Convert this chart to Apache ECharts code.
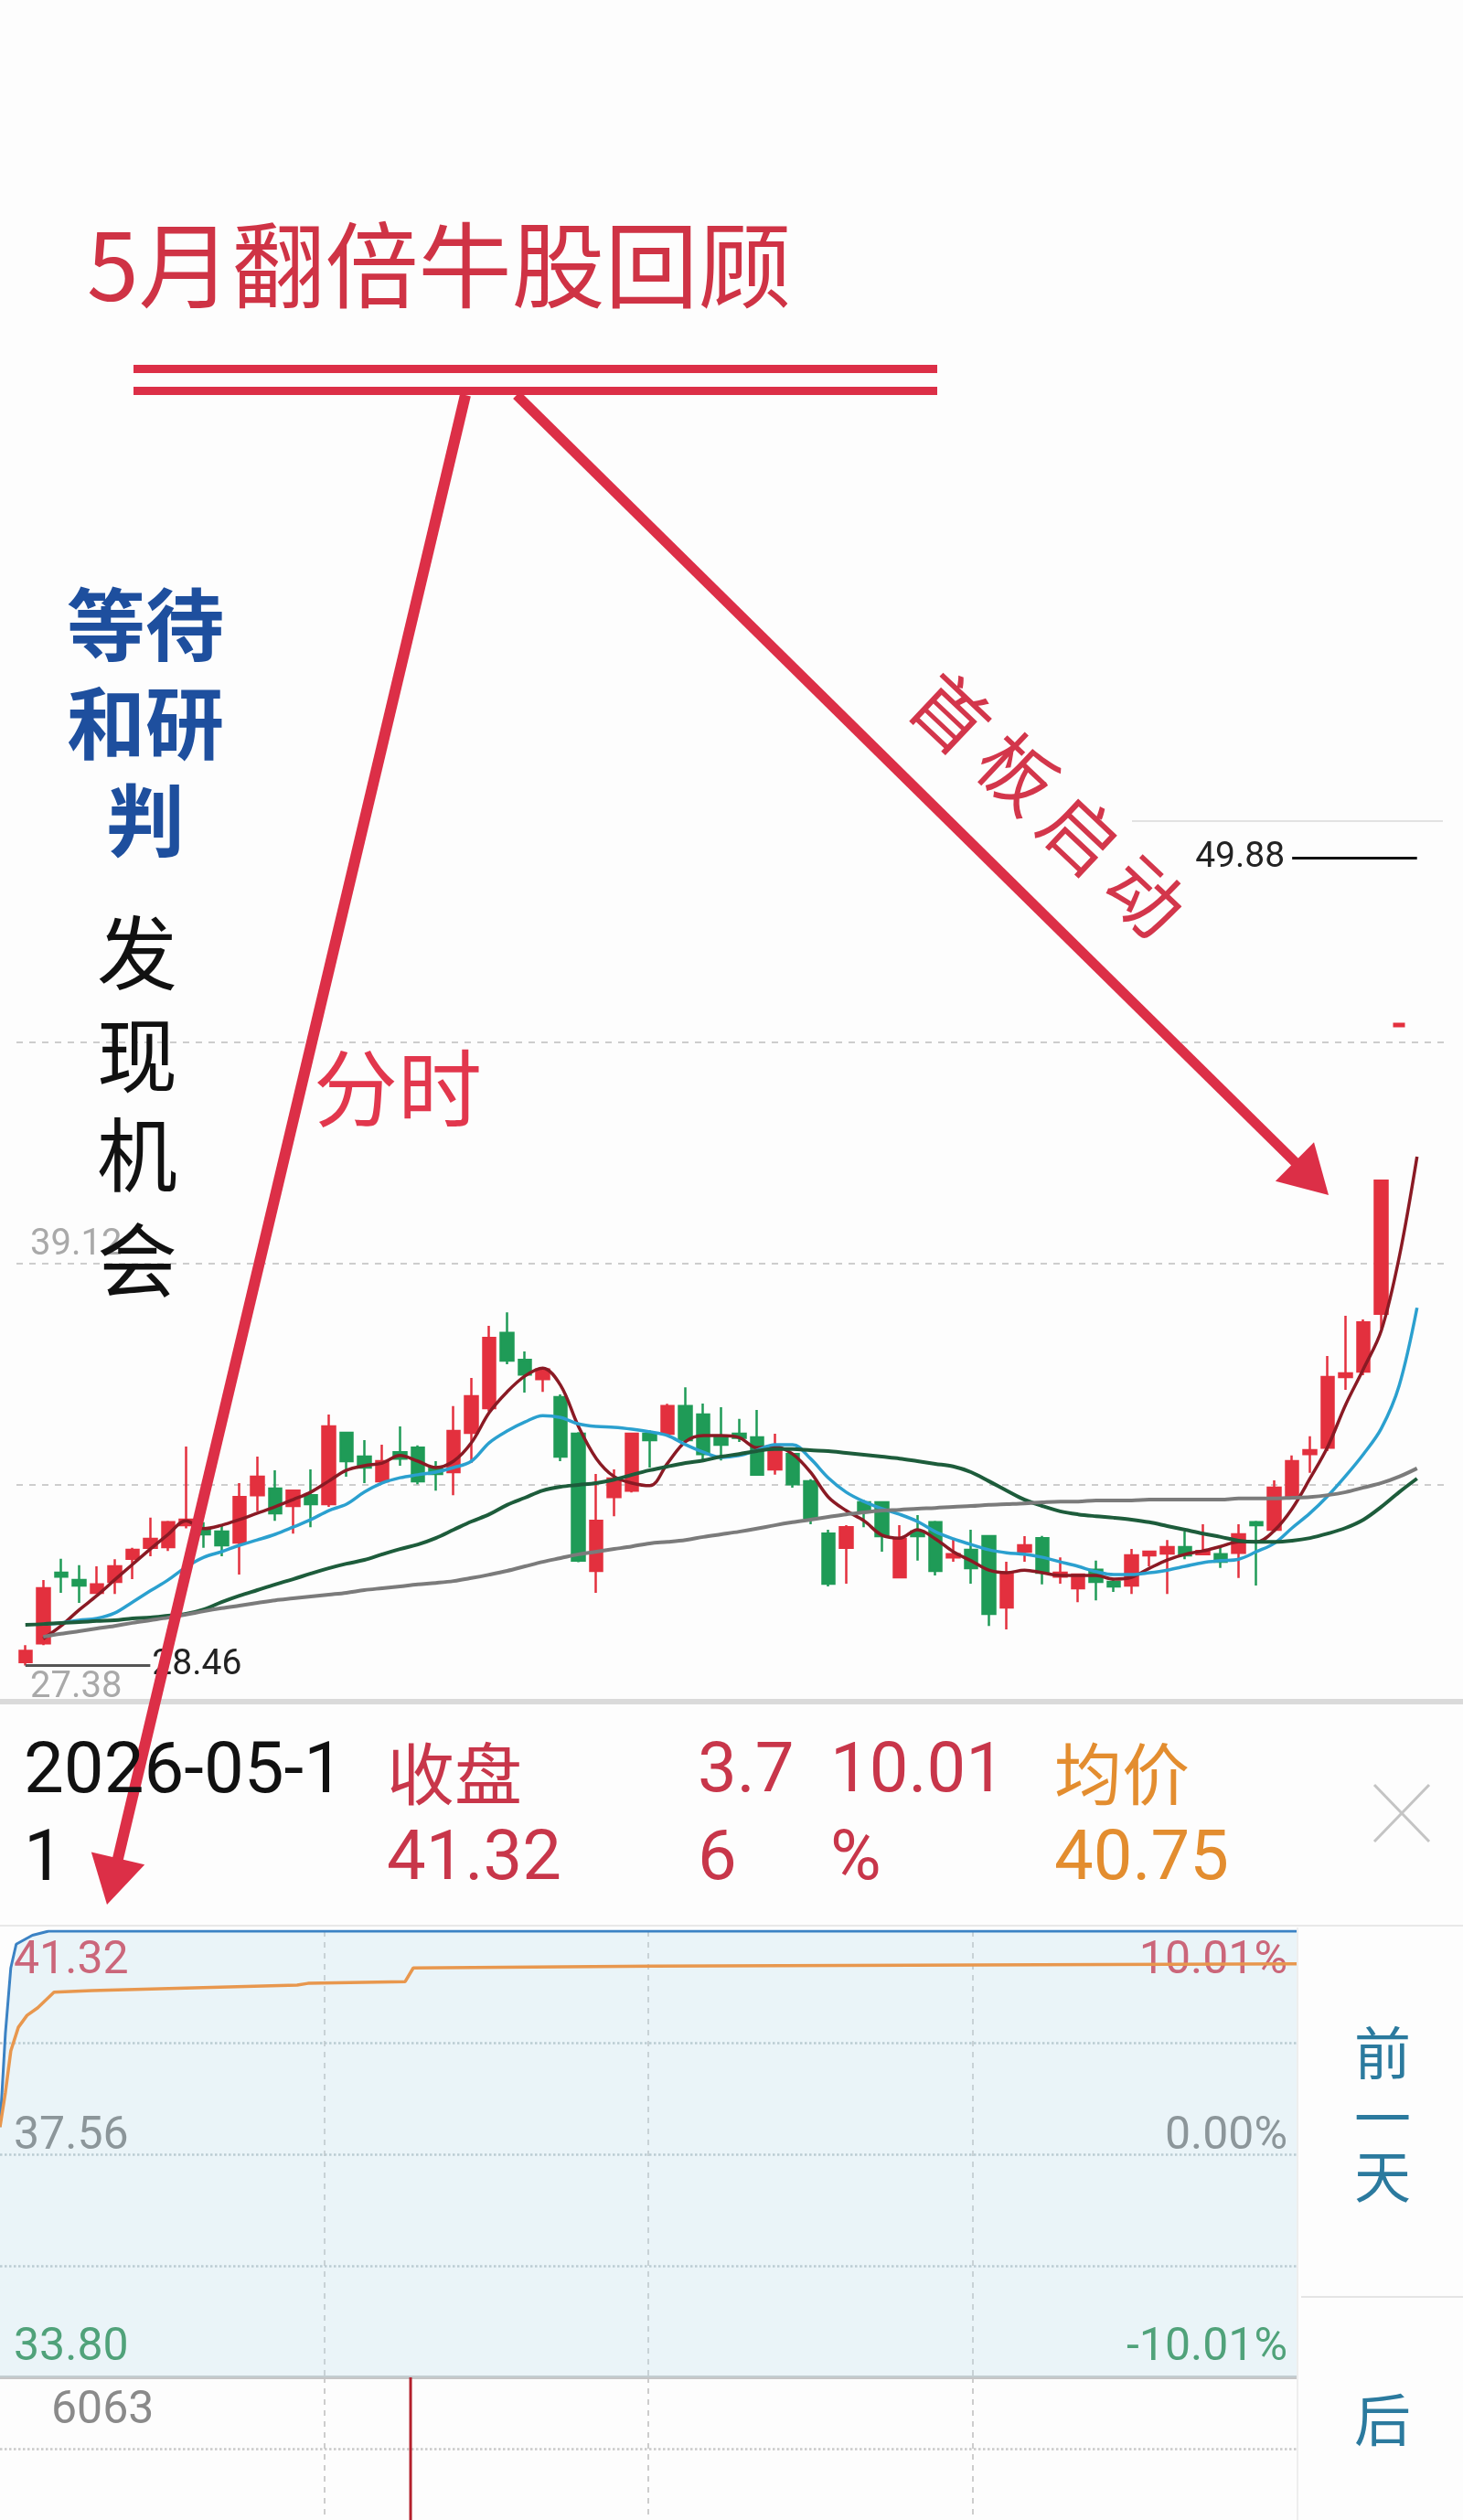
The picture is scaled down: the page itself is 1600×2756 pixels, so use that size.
<!DOCTYPE html>
<html>
<head>
<meta charset="utf-8">
<script src="https://cdn.jsdelivr.net/npm/echarts@6.0.0/dist/echarts.min.js"></script>
<style>
  html, body { margin: 0; padding: 0; background: #fdfdfd; }
  #main { width: 1600px; height: 2756px; }
</style>
</head>
<body>
<div id="main"></div>
<script>
// daily K line: [open, close, low, high]
const kCandles = [
  [28.55, 28.85, 28.46, 29.00], [29.05, 30.51, 29.00, 30.73], [30.92, 30.82, 30.39, 31.29], [30.73, 30.58, 30.12, 31.12],
  [30.39, 30.61, 30.36, 31.09], [30.68, 31.09, 30.36, 31.28], [31.29, 31.53, 30.75, 31.58], [31.58, 31.82, 31.36, 32.38],
  [31.60, 32.26, 31.50, 32.30], [32.18, 32.33, 32.10, 34.27], [32.09, 31.94, 31.58, 32.26], [32.01, 31.65, 31.36, 32.18],
  [31.72, 32.93, 30.87, 33.30], [32.98, 33.47, 32.55, 34.00], [33.15, 32.50, 32.30, 33.64], [32.69, 33.10, 31.96, 33.12],
  [32.98, 32.74, 32.13, 33.66], [32.74, 34.80, 32.67, 35.12], [34.63, 33.88, 33.47, 34.65], [34.00, 33.71, 33.30, 34.44],
  [33.35, 33.88, 33.30, 34.32], [34.12, 33.95, 33.76, 34.80], [34.24, 33.35, 33.27, 34.30], [33.71, 33.54, 33.10, 33.88],
  [33.59, 34.68, 32.98, 35.34], [34.63, 35.60, 33.83, 36.09], [35.29, 37.15, 35.20, 37.47], [37.28, 36.55, 36.45, 37.83],
  [36.57, 36.18, 35.70, 36.79], [36.06, 36.31, 35.72, 36.38], [35.58, 34.00, 33.88, 35.65], [34.61, 31.24, 31.20, 34.65],
  [30.97, 32.30, 30.39, 33.54], [32.93, 33.42, 32.42, 33.66], [33.10, 34.61, 33.05, 34.63], [34.61, 34.44, 33.71, 34.70],
  [34.61, 35.34, 34.55, 35.40], [35.34, 34.44, 34.40, 35.84], [35.12, 34.07, 33.90, 35.41], [34.51, 34.32, 33.90, 35.31],
  [34.61, 34.50, 34.39, 35.00], [34.51, 33.52, 33.50, 35.24], [33.66, 34.15, 33.52, 34.61], [34.07, 33.27, 33.18, 34.10],
  [33.35, 32.38, 32.21, 33.40], [31.96, 30.63, 30.56, 32.06], [31.58, 32.13, 30.63, 32.18], [32.79, 32.57, 32.13, 32.85],
  [32.79, 31.89, 31.48, 32.80], [30.80, 31.82, 30.78, 32.18], [32.01, 31.89, 31.24, 32.45], [32.26, 30.97, 30.85, 32.30],
  [31.33, 31.41, 31.21, 31.82], [31.53, 31.04, 30.63, 32.06], [31.89, 29.83, 29.51, 31.90], [30.00, 30.92, 29.42, 31.21],
  [31.48, 31.65, 31.21, 31.89], [31.84, 30.92, 30.61, 31.90], [30.82, 30.92, 30.63, 31.33], [30.51, 30.87, 30.14, 30.90],
  [31.00, 30.68, 30.19, 31.24], [30.68, 30.56, 30.41, 30.78], [30.58, 31.38, 30.36, 31.55], [31.38, 31.48, 31.09, 31.50],
  [31.43, 31.60, 30.36, 31.79], [31.60, 31.38, 31.28, 32.01], [31.41, 31.50, 31.38, 32.21], [31.41, 31.21, 31.05, 31.60],
  [31.45, 31.94, 30.78, 32.21], [32.26, 32.18, 30.58, 32.30], [32.06, 33.18, 32.00, 33.37], [32.96, 33.88, 32.90, 34.03],
  [34.07, 34.17, 33.57, 34.54], [34.24, 36.11, 34.15, 36.67], [36.11, 36.21, 35.77, 37.74], [36.26, 37.56, 36.16, 37.64],
  [37.79, 41.32, 37.40, 41.32], [45.45, 45.45, 45.45, 45.45], '-', '-'
];

const ma5 = ['-', 29.17, 29.51, 29.93, 30.31, 30.73, 31.14, 31.55, 31.94, 32.30,
  32.09, 32.18, 32.33, 32.50, 32.67, 32.86, 33.06, 33.35, 33.64, 33.76,
  33.83, 34.03, 33.88, 33.71, 33.88, 34.37, 35.17, 35.72, 36.14, 36.35,
  35.89, 34.80, 33.95, 33.47, 33.30, 33.23, 33.83, 34.40, 34.56, 34.56,
  34.51, 34.24, 34.27, 34.07, 33.59, 32.93, 32.57, 32.30, 31.92, 31.84,
  32.06, 31.82, 31.48, 31.24, 30.99, 30.92, 30.99, 30.92, 30.85, 30.85,
  30.85, 30.75, 30.80, 31.04, 31.26, 31.41, 31.50, 31.62, 31.74, 31.74,
  32.04, 32.62, 33.42, 34.27, 35.38, 36.33, 37.35, 39.29, 41.96, '-'];
const ma10 = ['-', 29.56, 29.59, 29.66, 29.71, 29.85, 30.14, 30.44, 30.73, 31.07,
  31.33, 31.48, 31.65, 31.79, 31.94, 32.13, 32.33, 32.57, 32.74, 33.06,
  33.30, 33.44, 33.52, 33.59, 33.71, 33.88, 34.37, 34.68, 34.92, 35.09,
  35.04, 34.87, 34.80, 34.78, 34.73, 34.66, 34.56, 34.32, 34.12, 33.98,
  34.03, 34.17, 34.32, 34.32, 33.95, 33.44, 33.06, 32.81, 32.62, 32.47,
  32.28, 32.01, 31.82, 31.67, 31.53, 31.45, 31.41, 31.33, 31.21, 31.09,
  30.95, 30.87, 30.87, 30.92, 30.99, 31.09, 31.19, 31.24, 31.28, 31.48,
  31.70, 32.11, 32.50, 32.96, 33.49, 34.07, 34.75, 35.89, 37.95, '-'];
const ma20 = [29.54, 29.56, 29.59, 29.61, 29.64, 29.66, 29.71, 29.73, 29.78, 29.83,
  29.95, 30.14, 30.31, 30.46, 30.61, 30.75, 30.90, 31.04, 31.16, 31.26,
  31.41, 31.55, 31.67, 31.84, 32.06, 32.28, 32.47, 32.72, 32.91, 33.10,
  33.20, 33.25, 33.30, 33.39, 33.52, 33.64, 33.74, 33.83, 33.90, 34.00,
  34.07, 34.15, 34.20, 34.20, 34.17, 34.15, 34.10, 34.05, 34.00, 33.95,
  33.88, 33.81, 33.74, 33.59, 33.35, 33.10, 32.86, 32.69, 32.55, 32.47,
  32.42, 32.38, 32.33, 32.26, 32.16, 32.06, 31.96, 31.87, 31.77, 31.74,
  31.74, 31.77, 31.84, 31.96, 32.11, 32.33, 32.67, 33.06, 33.42, '-'];
const ma60 = ['-', 29.22, 29.30, 29.37, 29.44, 29.51, 29.59, 29.66, 29.73, 29.81,
  29.90, 29.98, 30.05, 30.12, 30.19, 30.24, 30.29, 30.34, 30.39, 30.46,
  30.51, 30.56, 30.61, 30.65, 30.70, 30.78, 30.87, 30.97, 31.09, 31.21,
  31.31, 31.41, 31.48, 31.55, 31.62, 31.70, 31.74, 31.79, 31.87, 31.94,
  32.01, 32.09, 32.18, 32.26, 32.33, 32.40, 32.47, 32.52, 32.57, 32.59,
  32.62, 32.64, 32.67, 32.69, 32.72, 32.74, 32.76, 32.79, 32.81, 32.81,
  32.84, 32.84, 32.84, 32.86, 32.86, 32.86, 32.86, 32.86, 32.89, 32.89,
  32.89, 32.91, 32.93, 32.98, 33.06, 33.18, 33.30, 33.47, 33.69, '-'];

const kTicks = { '39.12': '39.12', '27.38': '27.38' };
const highMark = 49.88, lowMark = 28.46;

// intraday (minute, price)
const minutePrice = [[0, 38.02], [1, 39.6], [2, 40.7], [3, 41.1], [6, 41.25], [9, 41.32], [240, 41.32]];
const minuteAvg = [[0, 38.02], [1, 38.6], [2, 39.3], [3.4, 39.70], [5, 39.9], [7, 40.03], [10, 40.29], [17, 40.32],
  [55, 40.41], [57, 40.44], [75, 40.47], [76.5, 40.70], [121, 40.73], [240, 40.77]];
const minuteVolume = [[76, 6063]];
const priceTicks = { '41.32': ['t', '41.32', '10.01%'], '37.56': ['m', '37.56', '0.00%'], '33.80': ['b', '33.80', '-10.01%'] };

const RED = '#e3303e', GREEN = '#1f9b57';
const CJK = '"Noto Sans CJK SC", sans-serif';
const NUM = 'Roboto, "Noto Sans", sans-serif';

const chart = echarts.init(document.getElementById('main'), null, { renderer: 'canvas' });

function txt(text, x, y, size, color, o) {
  o = o || {};
  const align = o.align || 'left';
  return {
    type: 'text', x: x, y: y, rotation: o.rot || 0, z: 100,
    style: {
      text: text, fill: color, font: (o.weight || 'normal') + ' ' + size + 'px ' + (o.fam || CJK),
      align: align, verticalAlign: 'middle', textAlign: align, textVerticalAlign: 'middle'
    }
  };
}
function seg(x1, y1, x2, y2, color, w, z) {
  return { type: 'line', z: z || 90, shape: { x1, y1, x2, y2 }, style: { stroke: color, lineWidth: w, lineCap: 'butt' } };
}
function arrow(x1, y1, x2, y2, w, headLen, headHalf, color) {
  const dx = x2 - x1, dy = y2 - y1, len = Math.hypot(dx, dy);
  const ux = dx / len, uy = dy / len, nx = -uy, ny = ux;
  const bx = x2 - ux * headLen, by = y2 - uy * headLen;
  return [
    { type: 'line', z: 95, shape: { x1, y1, x2: bx + ux * 4, y2: by + uy * 4 }, style: { stroke: color, lineWidth: w } },
    { type: 'polygon', z: 95, shape: { points: [[x2, y2], [bx + nx * headHalf, by + ny * headHalf], [bx - nx * headHalf, by - ny * headHalf]] }, style: { fill: color } }
  ];
}

const ARROW = '#dc2f47';
const rot = -43.3 * Math.PI / 180;
const elements = [
  // frame pieces
  seg(1238, 898, 1578, 898, '#e2e2e2', 2, 1),
  { type: 'rect', z: 1, shape: { x: 0, y: 1858, width: 1600, height: 6 }, style: { fill: '#dadada' } },
  seg(0, 2106, 1600, 2106, '#e8e8e8', 2, 1),
  seg(1423, 2512, 1600, 2512, '#e4e4e4', 2, 1),
  seg(1419, 2108, 1419, 2756, '#eeeeee', 2, 1),
  // title + double rule
  txt('5月翻倍牛股回顾', 95, 290, 102, '#cf3345'),
  { type: 'rect', z: 90, shape: { x: 146, y: 399, width: 879, height: 9 }, style: { fill: ARROW } },
  { type: 'rect', z: 90, shape: { x: 146, y: 423, width: 879, height: 9 }, style: { fill: ARROW } },
  ...arrow(509, 432, 117, 2083, 12, 52, 30, ARROW),
  ...arrow(565, 432, 1453, 1307, 11, 52, 30, ARROW),
  // annotations
  txt('等待', 159, 683, 86, '#1e4f9e', { align: 'center', weight: 'bold' }),
  txt('和研', 159, 791, 86, '#1e4f9e', { align: 'center', weight: 'bold' }),
  txt('判', 159, 897, 86, '#1e4f9e', { align: 'center', weight: 'bold' }),
  txt('发', 150, 1042, 88, '#111', { align: 'center' }),
  txt('现', 150, 1154, 88, '#111', { align: 'center' }),
  txt('机', 150, 1263, 88, '#111', { align: 'center' }),
  txt('会', 150, 1378, 88, '#111', { align: 'center' }),
  txt('分时', 343, 1190, 92, '#e2374d'),
  txt('首', 1040, 780, 82, '#d3364b', { align: 'center', rot: rot }),
  txt('板', 1113, 845, 82, '#d3364b', { align: 'center', rot: rot }),
  txt('启', 1182, 912, 82, '#d3364b', { align: 'center', rot: rot }),
  txt('动', 1253, 980, 82, '#d3364b', { align: 'center', rot: rot }),
  // info bar
  txt('2026-05-1', 26, 1940, 78, '#111', { fam: NUM }),
  txt('1', 26, 2036, 78, '#111', { fam: NUM }),
  txt('收盘', 423, 1940, 74, '#c8364a'),
  txt('41.32', 423, 2036, 76, '#c8364a', { fam: NUM }),
  txt('3.7', 763, 1940, 76, '#c8364a', { fam: NUM }),
  txt('6', 763, 2036, 76, '#c8364a', { fam: NUM }),
  txt('10.01', 908, 1940, 76, '#c8364a', { fam: NUM }),
  txt('%', 908, 2036, 76, '#c8364a', { fam: NUM }),
  txt('均价', 1153, 1940, 74, '#e38d2f'),
  txt('40.75', 1153, 2036, 76, '#e38d2f', { fam: NUM }),
  seg(1503, 1952, 1563, 2014, '#c4c4c4', 3),
  seg(1563, 1952, 1503, 2014, '#c4c4c4', 3),
  // side buttons
  txt('前', 1512, 2245, 62, '#2b7a9e', { align: 'center' }),
  txt('一', 1512, 2316, 62, '#2b7a9e', { align: 'center' }),
  txt('天', 1512, 2380, 62, '#2b7a9e', { align: 'center' }),
  txt('后', 1512, 2646, 62, '#2b7a9e', { align: 'center' })
];

const leftRich = {
  t: { color: '#d0344a', fontSize: 50, fontFamily: NUM, padding: [66, 0, 0, 0] },
  m: { color: '#777777', fontSize: 50, fontFamily: NUM, padding: [0, 0, 38, 0] },
  b: { color: '#23894a', fontSize: 50, fontFamily: NUM, padding: [0, 0, 64, 0] }
};
function tickKey(v) { return (Math.round(v * 100) / 100).toFixed(2); }

const option = {
  animation: false,
  backgroundColor: '#fdfdfd',
  grid: [
    { left: 18, top: 898, width: 1561, height: 968 },
    { left: 0, top: 2112, width: 1418, height: 488 },
    { left: 0, top: 2600, width: 1418, height: 246 }
  ],
  xAxis: [
    { gridIndex: 0, type: 'category', data: kCandles.map((_, i) => String(i)),
      axisLine: { show: false }, axisTick: { show: false }, axisLabel: { show: false }, splitLine: { show: false } },
    { gridIndex: 1, type: 'value', min: 0, max: 240, interval: 60,
      axisLine: { show: true, onZero: false, lineStyle: { color: '#c6c6c6', width: 4 } },
      axisTick: { show: false }, axisLabel: { show: false },
      splitLine: { show: true, showMinLine: false, showMaxLine: false, lineStyle: { color: '#bdbdbd', type: [6, 6], width: 1.5 } } },
    { gridIndex: 2, type: 'value', min: 0, max: 240, interval: 60,
      axisLine: { show: false }, axisTick: { show: false }, axisLabel: { show: false },
      splitLine: { show: true, showMinLine: false, showMaxLine: false, lineStyle: { color: '#bdbdbd', type: [6, 6], width: 1.5 } } }
  ],
  yAxis: [
    { gridIndex: 0, type: 'value', min: 27.38, max: 50.86, interval: 5.87,
      axisLine: { show: false }, axisTick: { show: false },
      splitLine: { show: true, showMinLine: false, showMaxLine: false, lineStyle: { color: '#cdcdcd', type: [7, 7], width: 2 } },
      axisLabel: { inside: true, margin: 15, color: '#a9a9a9', fontSize: 40, fontFamily: NUM, verticalAlign: 'bottom',
        formatter: v => kTicks[tickKey(v)] || '' } },
    { gridIndex: 1, type: 'value', min: 33.80, max: 41.32, interval: 1.88,
      axisLine: { show: false }, axisTick: { show: false },
      splitLine: { show: true, showMinLine: false, showMaxLine: false, lineStyle: { color: '#b9c3c7', type: 'dotted', width: 2.5 } },
      axisLabel: { inside: true, margin: 15, verticalAlign: 'middle', rich: leftRich,
        formatter: v => { const t = priceTicks[tickKey(v)]; return t ? '{' + t[0] + '|' + t[1] + '}' : ''; } } },
    { gridIndex: 1, type: 'value', position: 'right', min: 33.80, max: 41.32, interval: 1.88,
      axisLine: { show: false }, axisTick: { show: false }, splitLine: { show: false },
      axisLabel: { inside: true, margin: 10, verticalAlign: 'middle', rich: leftRich,
        formatter: v => { const t = priceTicks[tickKey(v)]; return t ? '{' + t[0] + '|' + t[2] + '}' : ''; } } },
    { gridIndex: 2, type: 'value', min: 0, max: 6063, interval: 3031.5,
      axisLine: { show: false }, axisTick: { show: false },
      splitLine: { show: true, showMinLine: false, showMaxLine: false, lineStyle: { color: '#c9c9c9', type: 'dotted', width: 2.5 } },
      axisLabel: { inside: true, margin: 56, verticalAlign: 'middle',
        rich: { v: { color: '#8a8a8a', fontSize: 50, fontFamily: NUM, padding: [74, 0, 0, 0] } },
        formatter: v => v >= 6063 ? '{v|6063}' : '' } }
  ],
  series: [
    { name: 'K', type: 'candlestick', xAxisIndex: 0, yAxisIndex: 0, barWidth: 14,
      data: kCandles.map((d, i) => (i === 77 ? { value: d, itemStyle: { borderWidth: 5 } } : d)),
      itemStyle: { color: RED, color0: GREEN, borderColor: RED, borderColor0: GREEN, borderColorDoji: RED, borderWidth: 2.5 },
      markLine: {
        silent: true, symbol: ['none', 'none'], animation: false,
        data: [
          [{ coord: [71, highMark], lineStyle: { color: '#111', width: 3, type: 'solid' },
             label: { show: true, position: 'start', distance: 8, formatter: '49.88', color: '#222', fontSize: 39, fontFamily: NUM } },
           { coord: [78, highMark] }],
          [{ coord: [0, lowMark], lineStyle: { color: '#555', width: 3, type: 'solid' },
             label: { show: true, position: 'end', distance: 2, formatter: '28.46', color: '#222', fontSize: 39, fontFamily: NUM, padding: [14, 0, 0, 0] } },
           { coord: [7, lowMark] }]
        ]
      } },
    { name: 'MA5', type: 'line', xAxisIndex: 0, yAxisIndex: 0, data: ma5, smooth: 0.35, showSymbol: false,
      lineStyle: { color: '#8a1a24', width: 3.5 } },
    { name: 'MA10', type: 'line', xAxisIndex: 0, yAxisIndex: 0, data: ma10, smooth: 0.35, showSymbol: false,
      lineStyle: { color: '#2ba0cf', width: 3.5 } },
    { name: 'MA20', type: 'line', xAxisIndex: 0, yAxisIndex: 0, data: ma20, smooth: 0.35, showSymbol: false,
      lineStyle: { color: '#1d5c3b', width: 4 } },
    { name: 'MA60', type: 'line', xAxisIndex: 0, yAxisIndex: 0, data: ma60, smooth: 0.35, showSymbol: false,
      lineStyle: { color: '#7b7b7b', width: 4 } },
    { name: '价格', type: 'line', xAxisIndex: 1, yAxisIndex: 1, data: minutePrice, showSymbol: false,
      lineStyle: { color: '#3b82c4', width: 3 }, areaStyle: { color: 'rgba(190,224,238,0.42)', origin: 'start' } },
    { name: '均价', type: 'line', xAxisIndex: 1, yAxisIndex: 1, data: minuteAvg, showSymbol: false,
      lineStyle: { color: '#e8974e', width: 3.5 } },
    { name: '成交量', type: 'bar', xAxisIndex: 2, yAxisIndex: 3, data: minuteVolume, barWidth: 3,
      itemStyle: { color: '#b3202c' } }
  ],
  graphic: { elements: elements }
};

chart.setOption(option);
</script>
</body>
</html>
